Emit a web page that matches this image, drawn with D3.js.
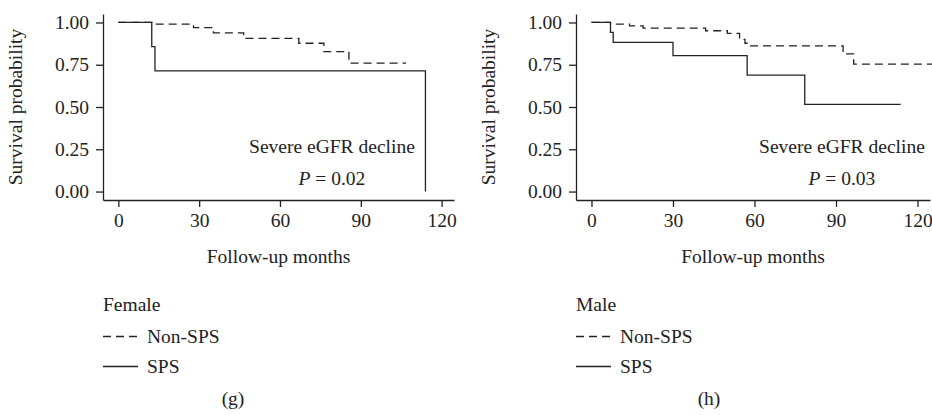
<!DOCTYPE html>
<html>
<head>
<meta charset="utf-8">
<script src="https://cdn.jsdelivr.net/npm/d3@7"></script>
<style>
  html, body { margin: 0; padding: 0; background: #fff; }
  svg { display: block; }
  text { font-family: "Liberation Serif", "DejaVu Serif", serif; fill: #222; }
</style>
</head>
<body>
<svg id="chart" width="932" height="415"></svg>
<script>
// ---------- data ----------
const xTicks = [0, 30, 60, 90, 120];
const yTicks = [0, 0.25, 0.5, 0.75, 1.0];
const yTickLabels = ["0.00", "0.25", "0.50", "0.75", "1.00"];
const seriesNames = ["Non-SPS", "SPS"];

// Female (g)
const femaleNonSPSTime = [0, 12.4, 27.9, 35.3, 46.5, 67.0, 76.3, 85.6, 106.8];
const femaleNonSPSSurv = [1.0, 0.99, 0.97, 0.938, 0.906, 0.877, 0.828, 0.759, 0.759];
const femaleSPSTime = [0, 12.4, 13.6, 114.0, 114.0];
const femaleSPSSurv = [1.0, 0.857, 0.714, 0.714, 0.0];

// Male (h)
const maleNonSPSTime = [0, 7.0, 14.0, 19.0, 42.0, 50.0, 54.5, 56.5, 58.5, 92.6, 96.5, 125.5];
const maleNonSPSSurv = [1.0, 0.99, 0.98, 0.966, 0.951, 0.935, 0.9, 0.877, 0.861, 0.814, 0.754, 0.754];
const maleSPSTime = [0, 7.0, 8.0, 30.0, 57.3, 78.5, 113.8];
const maleSPSSurv = [1.0, 0.941, 0.882, 0.804, 0.688, 0.516, 0.516];

const panels = [
  { group: "Female", tag: "(g)", p: "0.02",
    nonT: femaleNonSPSTime, nonS: femaleNonSPSSurv, spsT: femaleSPSTime, spsS: femaleSPSSurv,
    left: 103, right: 454, annX: 79.3, subCenter: 233 },
  { group: "Male", tag: "(h)", p: "0.03",
    nonT: maleNonSPSTime, nonS: maleNonSPSSurv, spsT: maleSPSTime, spsS: maleSPSSurv,
    left: 576, right: 930, annX: 92.2, subCenter: 709 }
];

const svg = d3.select("#chart");
const plotTop = 14, plotBottom = 200;
const ink = "#222";
const fs = 19.5;

panels.forEach(pn => {
  const x = d3.scaleLinear().domain([-5.7, 124.6]).range([pn.left, pn.right]);
  const y = d3.scaleLinear().domain([-0.05, 1.05]).range([plotBottom, plotTop]);
  const g = svg.append("g");

  const xAxis = d3.axisBottom(x).tickValues(xTicks).tickSize(7).tickPadding(6).tickSizeOuter(0);
  const yAxis = d3.axisLeft(y).tickValues(yTicks).tickSize(7).tickPadding(7).tickSizeOuter(0)
    .tickFormat((d, i) => yTickLabels[i]);
  const gx = g.append("g").attr("transform", `translate(0,${plotBottom})`).call(xAxis);
  const gy = g.append("g").attr("transform", `translate(${pn.left},0)`).call(yAxis);
  [gx, gy].forEach(a => {
    a.selectAll("path.domain").attr("stroke", ink).attr("stroke-width", 1.3);
    a.selectAll(".tick line").attr("stroke", ink).attr("stroke-width", 1.3);
    a.selectAll(".tick text").attr("font-size", fs).attr("fill", ink)
      .style("font-family", '"Liberation Serif", serif');
  });

  g.append("text").attr("x", (pn.left + pn.right) / 2).attr("y", 263)
    .attr("text-anchor", "middle").attr("font-size", fs).text("Follow-up months");
  g.append("text")
    .attr("transform", `translate(${pn.left - 81},${(plotTop + plotBottom) / 2}) rotate(-90)`)
    .attr("text-anchor", "middle").attr("font-size", fs).text("Survival probability");

  const line = d3.line().x(d => x(d[0])).y(d => y(d[1])).curve(d3.curveStepAfter);
  g.append("path").datum(d3.zip(pn.nonT, pn.nonS)).attr("d", line)
    .attr("fill", "none").attr("stroke", ink).attr("stroke-width", 1.3).attr("stroke-dasharray", "8,5");
  g.append("path").datum(d3.zip(pn.spsT, pn.spsS)).attr("d", line)
    .attr("fill", "none").attr("stroke", ink).attr("stroke-width", 1.3);

  g.append("text").attr("x", x(pn.annX)).attr("y", y(0.23)).attr("text-anchor", "middle")
    .attr("font-size", fs).text("Severe eGFR decline");
  const pt = g.append("text").attr("x", x(pn.annX)).attr("y", y(0.038)).attr("text-anchor", "middle")
    .attr("font-size", fs);
  pt.append("tspan").attr("font-style", "italic").text("P");
  pt.append("tspan").text(" = " + pn.p);

  const lg = g.append("g");
  lg.append("text").attr("x", pn.left).attr("y", 311).attr("font-size", fs).text(pn.group);
  [342.5, 372.5].forEach((by, i) => {
    lg.append("line").attr("x1", pn.left).attr("x2", pn.left + 35).attr("y1", by - 6).attr("y2", by - 6)
      .attr("stroke", ink).attr("stroke-width", 1.3)
      .attr("stroke-dasharray", i === 0 ? "8,5" : null);
    lg.append("text").attr("x", pn.left + 44).attr("y", by).attr("font-size", fs).text(seriesNames[i]);
  });
  g.append("text").attr("x", pn.subCenter).attr("y", 405).attr("text-anchor", "middle")
    .attr("font-size", fs).text(pn.tag);
});
</script>
</body>
</html>
